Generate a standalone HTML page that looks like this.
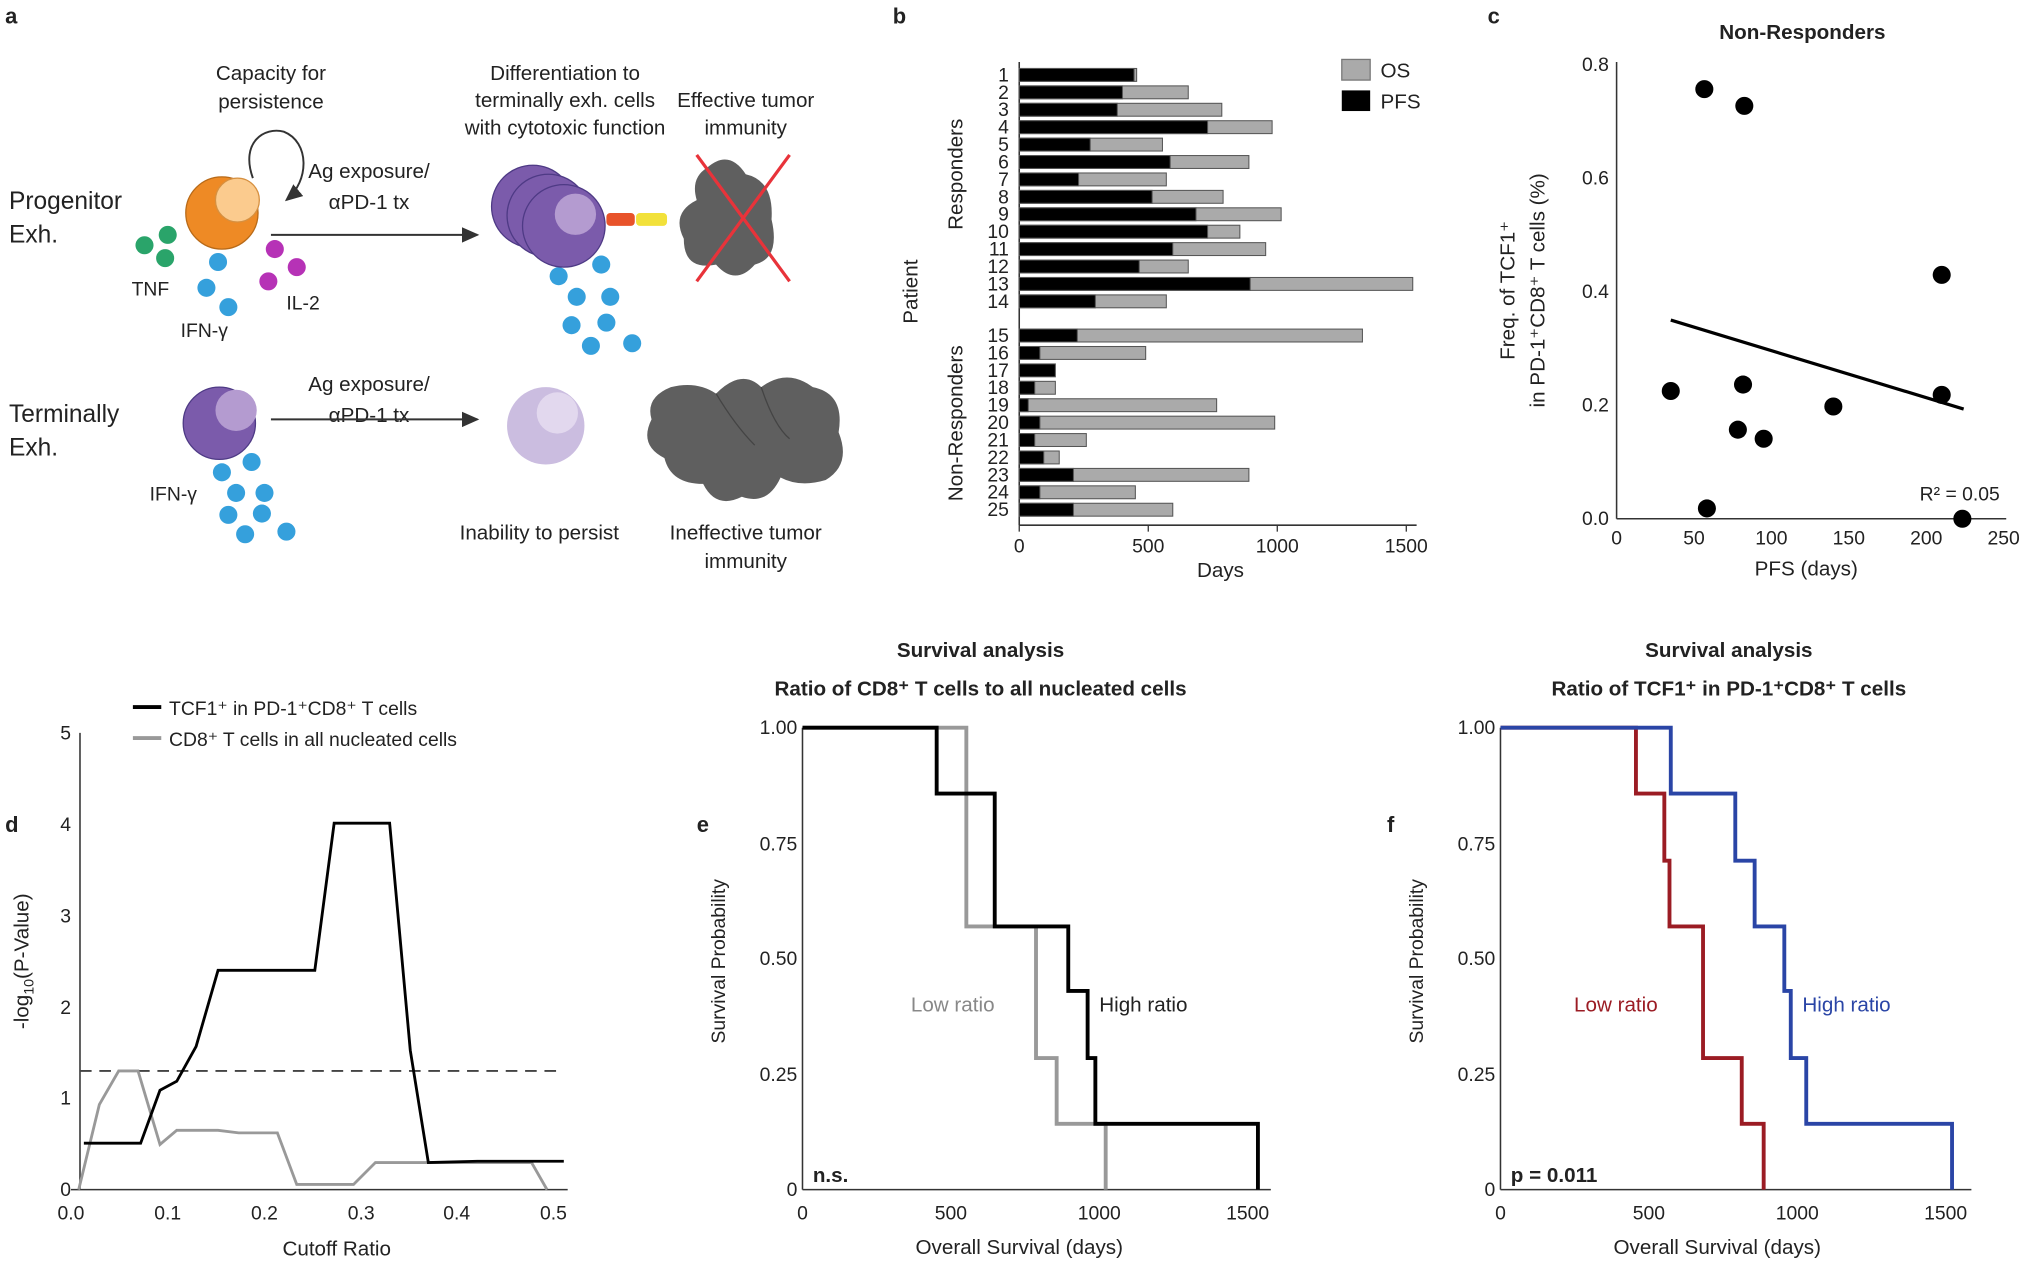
<!DOCTYPE html>
<html><head><meta charset="utf-8"><style>
html,body{margin:0;padding:0;background:#fff}
svg{display:block}
text{font-family:"Liberation Sans",sans-serif;fill:#222}
.t{font-size:16px}
.s{font-size:15px}
.b{font-weight:bold}
.L{font-size:17px;font-weight:bold}
</style></head><body>
<svg width="2023" height="1271" viewBox="0 0 1568 985" xmlns="http://www.w3.org/2000/svg">
<defs><marker id="ar" markerWidth="10" markerHeight="10" refX="8" refY="4" orient="auto"><path d="M0,0 L9,4 L0,8 z" fill="#333"/></marker></defs>
<text x="4" y="18" class="L">a</text>
<text x="692" y="18" class="L">b</text>
<text x="1153" y="18" class="L">c</text>
<text x="4" y="645" class="L">d</text>
<text x="540" y="645" class="L">e</text>
<text x="1075" y="645" class="L">f</text>

<!-- PANEL A -->
<g class="t">
<text x="210" y="62" text-anchor="middle">Capacity for</text>
<text x="210" y="84" text-anchor="middle">persistence</text>
<text x="438" y="62" text-anchor="middle">Differentiation to</text>
<text x="438" y="83" text-anchor="middle">terminally exh. cells</text>
<text x="438" y="104" text-anchor="middle">with cytotoxic function</text>
<text x="578" y="83" text-anchor="middle">Effective tumor</text>
<text x="578" y="104" text-anchor="middle">immunity</text>
<text x="7" y="162" font-size="19">Progenitor</text>
<text x="7" y="188" font-size="19">Exh.</text>
<text x="7" y="327" font-size="19">Terminally</text>
<text x="7" y="353" font-size="19">Exh.</text>
<text x="286" y="138" text-anchor="middle">Ag exposure/</text>
<text x="286" y="162" text-anchor="middle">αPD-1 tx</text>
<text x="286" y="303" text-anchor="middle">Ag exposure/</text>
<text x="286" y="327" text-anchor="middle">αPD-1 tx</text>
<text x="102" y="229" class="s">TNF</text>
<text x="140" y="261" class="s">IFN-γ</text>
<text x="222" y="240" class="s">IL-2</text>
<text x="116" y="388" class="s">IFN-γ</text>
<text x="418" y="418" text-anchor="middle">Inability to persist</text>
<text x="578" y="418" text-anchor="middle">Ineffective tumor</text>
<text x="578" y="440" text-anchor="middle">immunity</text>
</g>
<path d="M196,138 C186,110 205,98 220,102 C240,110 240,140 222,155" fill="none" stroke="#333" stroke-width="1.5" marker-end="url(#ar)"/>
<line x1="210" y1="182" x2="370" y2="182" stroke="#333" stroke-width="1.5" marker-end="url(#ar)"/>
<line x1="210" y1="325" x2="370" y2="325" stroke="#333" stroke-width="1.5" marker-end="url(#ar)"/>
<circle cx="172" cy="165" r="28" fill="#ee8a25" stroke="#b86a18"/>
<circle cx="184" cy="155" r="17" fill="#fbcb8e" stroke="#d69040"/>
<g fill="#2aa46a"><circle cx="112" cy="190" r="7"/><circle cx="130" cy="182" r="7"/><circle cx="128" cy="200" r="7"/></g>
<g fill="#b632b6"><circle cx="213" cy="193" r="7"/><circle cx="230" cy="207" r="7"/><circle cx="208" cy="218" r="7"/></g>
<g fill="#35a0dc"><circle cx="169" cy="203" r="7"/><circle cx="160" cy="223" r="7"/><circle cx="177" cy="238" r="7"/>
<circle cx="433" cy="214" r="7"/><circle cx="466" cy="205" r="7"/><circle cx="447" cy="230" r="7"/><circle cx="473" cy="230" r="7"/><circle cx="443" cy="252" r="7"/><circle cx="470" cy="250" r="7"/><circle cx="458" cy="268" r="7"/><circle cx="490" cy="266" r="7"/>
<circle cx="172" cy="366" r="7"/><circle cx="195" cy="358" r="7"/><circle cx="183" cy="382" r="7"/><circle cx="205" cy="382" r="7"/><circle cx="177" cy="399" r="7"/><circle cx="203" cy="398" r="7"/><circle cx="190" cy="414" r="7"/><circle cx="222" cy="412" r="7"/></g>
<g stroke="#4e3a85" stroke-width="1"><circle cx="413" cy="160" r="32" fill="#7b5bab"/><circle cx="425" cy="167" r="32" fill="#7b5bab"/><circle cx="437" cy="175" r="32" fill="#7b5bab"/></g>
<circle cx="446" cy="166" r="16" fill="#b49bd0"/>
<rect x="470" y="165" width="22" height="10" rx="3" fill="#e8532a"/><rect x="493" y="165" width="24" height="10" rx="3" fill="#f2e13a"/>
<path d="M548,130 Q565,115 578,135 Q600,140 598,170 Q605,200 585,205 Q570,222 555,205 Q530,210 530,185 Q520,165 540,155 Q535,138 548,130z" fill="#5f5f5f"/>
<line x1="540" y1="120" x2="612" y2="218" stroke="#e8333a" stroke-width="2.5"/><line x1="612" y1="120" x2="540" y2="218" stroke="#e8333a" stroke-width="2.5"/>
<circle cx="170" cy="328" r="28" fill="#7b5bab" stroke="#4e3a85"/><circle cx="183" cy="318" r="16" fill="#b49bd0"/>
<circle cx="423" cy="330" r="30" fill="#cbbde0"/><circle cx="432" cy="320" r="16" fill="#e2d8ee"/>
<path d="M520,300 Q540,295 555,305 Q575,285 590,300 Q610,285 630,300 Q655,305 650,335 Q660,360 640,372 Q620,378 605,370 Q595,392 575,385 Q555,395 545,375 Q520,375 515,355 Q495,345 505,325 Q500,308 520,300z" fill="#5f5f5f"/>
<path d="M555,305 Q570,330 585,345 M590,300 Q600,330 612,340" fill="none" stroke="#444"/>

<!-- PANEL B -->
<line x1="790" y1="48" x2="790" y2="407" stroke="#333" stroke-width="1.2"/>
<line x1="790" y1="407" x2="1098" y2="407" stroke="#333" stroke-width="1.2"/>
<g class="s" text-anchor="middle">
<text x="790" y="428">0</text><text x="890" y="428">500</text><text x="990" y="428">1000</text><text x="1090" y="428">1500</text>
</g>
<g stroke="#333"><line x1="790" y1="407" x2="790" y2="412"/><line x1="890" y1="407" x2="890" y2="412"/><line x1="990" y1="407" x2="990" y2="412"/><line x1="1090" y1="407" x2="1090" y2="412"/></g>
<text x="946" y="447" class="t" text-anchor="middle">Days</text>
<text transform="translate(711,226) rotate(-90)" class="t" text-anchor="middle">Patient</text>
<text transform="translate(746,135) rotate(-90)" class="t" text-anchor="middle">Responders</text>
<text transform="translate(746,328) rotate(-90)" class="t" text-anchor="middle">Non-Responders</text>
<rect x="1040" y="46" width="22" height="16" fill="#aaa" stroke="#777"/>
<rect x="1040" y="70" width="22" height="16" fill="#000"/>
<text x="1070" y="60" class="t">OS</text><text x="1070" y="84" class="t">PFS</text>

<!-- PANEL C -->
<text x="1397" y="30" class="t b" text-anchor="middle">Non-Responders</text>
<line x1="1253" y1="48" x2="1253" y2="402" stroke="#333" stroke-width="1.2"/>
<line x1="1253" y1="402" x2="1555" y2="402" stroke="#333" stroke-width="1.2"/>
<g class="s" text-anchor="end"><text x="1247" y="407">0.0</text><text x="1247" y="319">0.2</text><text x="1247" y="231">0.4</text><text x="1247" y="143">0.6</text><text x="1247" y="55">0.8</text></g>
<g class="s" text-anchor="middle"><text x="1253" y="422">0</text><text x="1313" y="422">50</text><text x="1373" y="422">100</text><text x="1433" y="422">150</text><text x="1493" y="422">200</text><text x="1553" y="422">250</text></g>
<text x="1400" y="446" class="t" text-anchor="middle">PFS (days)</text>
<text transform="translate(1174,225) rotate(-90)" class="t" text-anchor="middle">Freq. of TCF1⁺</text>
<text transform="translate(1197,225) rotate(-90)" class="t" text-anchor="middle">in PD-1⁺CD8⁺ T cells (%)</text>
<line x1="1295" y1="248" x2="1522" y2="317" stroke="#000" stroke-width="2.5"/>
<g fill="#000"><circle cx="1295" cy="303" r="7"/><circle cx="1321" cy="69" r="7"/><circle cx="1352" cy="82" r="7"/><circle cx="1505" cy="213" r="7"/><circle cx="1351" cy="298" r="7"/><circle cx="1505" cy="306" r="7"/><circle cx="1421" cy="315" r="7"/><circle cx="1347" cy="333" r="7"/><circle cx="1367" cy="340" r="7"/><circle cx="1323" cy="394" r="7"/><circle cx="1521" cy="402" r="7"/></g>
<text x="1550" y="388" class="s" text-anchor="end">R² = 0.05</text>

<!-- PANEL D -->
<line x1="62" y1="568" x2="62" y2="922" stroke="#333" stroke-width="1.2"/>
<line x1="55" y1="922" x2="440" y2="922" stroke="#333" stroke-width="1.2"/>
<g class="s" text-anchor="end"><text x="55" y="927">0</text><text x="55" y="856">1</text><text x="55" y="786">2</text><text x="55" y="715">3</text><text x="55" y="644">4</text><text x="55" y="573">5</text></g>
<g class="s" text-anchor="middle"><text x="55" y="945">0.0</text><text x="130" y="945">0.1</text><text x="205" y="945">0.2</text><text x="280" y="945">0.3</text><text x="354" y="945">0.4</text><text x="429" y="945">0.5</text></g>
<text x="261" y="973" class="t" text-anchor="middle">Cutoff Ratio</text>
<text transform="translate(22,745) rotate(-90)" class="t" text-anchor="middle">-log<tspan font-size="11" dy="4">10</tspan><tspan dy="-4">(P-Value)</tspan></text>
<line x1="62" y1="830" x2="437" y2="830" stroke="#444" stroke-width="1.5" stroke-dasharray="9,6"/>
<polyline fill="none" stroke="#999" stroke-width="2.2" points="61,922 77,856 92,830 107,830 124,887 137,876 169,876 185,878 215,878 230,918 274,918 291,901 412,901 424,922"/>
<polyline fill="none" stroke="#000" stroke-width="2.2" points="65,886 109,886 124,845 137,838 152,811 169,752 244,752 259,638 302,638 318,814 332,901 370,900 437,900"/>
<line x1="103" y1="548" x2="125" y2="548" stroke="#000" stroke-width="3"/>
<line x1="103" y1="572" x2="125" y2="572" stroke="#999" stroke-width="3"/>
<text x="131" y="554" class="s">TCF1⁺ in PD-1⁺CD8⁺ T cells</text>
<text x="131" y="578" class="s">CD8⁺ T cells in all nucleated cells</text>

<!-- PANEL E -->
<text x="760" y="509" class="t b" text-anchor="middle">Survival analysis</text>
<text x="760" y="539" class="t b" text-anchor="middle">Ratio of CD8⁺ T cells to all nucleated cells</text>
<line x1="622" y1="564" x2="622" y2="922" stroke="#333" stroke-width="1.2"/>
<line x1="622" y1="922" x2="985" y2="922" stroke="#333" stroke-width="1.2"/>
<g class="s" text-anchor="end"><text x="618" y="927">0</text><text x="618" y="838">0.25</text><text x="618" y="748">0.50</text><text x="618" y="659">0.75</text><text x="618" y="569">1.00</text></g>
<g class="s" text-anchor="middle"><text x="622" y="945">0</text><text x="737" y="945">500</text><text x="852" y="945">1000</text><text x="967" y="945">1500</text></g>
<text x="790" y="972" class="t" text-anchor="middle">Overall Survival (days)</text>
<text transform="translate(562,745) rotate(-90)" class="s" text-anchor="middle">Survival Probability</text>
<polyline fill="none" stroke="#999" stroke-width="3" points="622,564 749,564 749,718 803,718 803,820 819,820 819,871 857,871 857,922"/>
<polyline fill="none" stroke="#000" stroke-width="3" points="622,564 726,564 726,615 771,615 771,718 828,718 828,768 843,768 843,820 849,820 849,871 975,871 975,922"/>
<text x="706" y="784" class="t" style="fill:#888">Low ratio</text>
<text x="852" y="784" class="t">High ratio</text>
<text x="630" y="916" class="t b">n.s.</text>

<!-- PANEL F -->
<text x="1340" y="509" class="t b" text-anchor="middle">Survival analysis</text>
<text x="1340" y="539" class="t b" text-anchor="middle">Ratio of TCF1⁺ in PD-1⁺CD8⁺ T cells</text>
<line x1="1163" y1="564" x2="1163" y2="922" stroke="#333" stroke-width="1.2"/>
<line x1="1163" y1="922" x2="1528" y2="922" stroke="#333" stroke-width="1.2"/>
<g class="s" text-anchor="end"><text x="1159" y="927">0</text><text x="1159" y="838">0.25</text><text x="1159" y="748">0.50</text><text x="1159" y="659">0.75</text><text x="1159" y="569">1.00</text></g>
<g class="s" text-anchor="middle"><text x="1163" y="945">0</text><text x="1278" y="945">500</text><text x="1393" y="945">1000</text><text x="1508" y="945">1500</text></g>
<text x="1331" y="972" class="t" text-anchor="middle">Overall Survival (days)</text>
<text transform="translate(1103,745) rotate(-90)" class="s" text-anchor="middle">Survival Probability</text>
<polyline fill="none" stroke="#9b1c24" stroke-width="3" points="1163,564 1268,564 1268,615 1290,615 1290,667 1294,667 1294,718 1320,718 1320,820 1350,820 1350,871 1367,871 1367,922"/>
<polyline fill="none" stroke="#2a45a6" stroke-width="3" points="1163,564 1295,564 1295,615 1345,615 1345,667 1360,667 1360,718 1383,718 1383,768 1388,768 1388,820 1400,820 1400,871 1513,871 1513,922"/>
<text x="1220" y="784" class="t" style="fill:#9b1c24">Low ratio</text>
<text x="1397" y="784" class="t" style="fill:#2a45a6">High ratio</text>
<text x="1171" y="916" class="t b">p = 0.011</text>

<!-- bars b -->
<g stroke="#555" stroke-width="0.8">
<rect x="790" y="53" width="91" height="10" fill="#aaa"/><rect x="790" y="53" width="89" height="10" fill="#000"/>
<rect x="790" y="66.5" width="131" height="10" fill="#aaa"/><rect x="790" y="66.5" width="80" height="10" fill="#000"/>
<rect x="790" y="80" width="157" height="10" fill="#aaa"/><rect x="790" y="80" width="76" height="10" fill="#000"/>
<rect x="790" y="93.5" width="196" height="10" fill="#aaa"/><rect x="790" y="93.5" width="146" height="10" fill="#000"/>
<rect x="790" y="107" width="111" height="10" fill="#aaa"/><rect x="790" y="107" width="55" height="10" fill="#000"/>
<rect x="790" y="120.5" width="178" height="10" fill="#aaa"/><rect x="790" y="120.5" width="117" height="10" fill="#000"/>
<rect x="790" y="134" width="114" height="10" fill="#aaa"/><rect x="790" y="134" width="46" height="10" fill="#000"/>
<rect x="790" y="147.5" width="158" height="10" fill="#aaa"/><rect x="790" y="147.5" width="103" height="10" fill="#000"/>
<rect x="790" y="161" width="203" height="10" fill="#aaa"/><rect x="790" y="161" width="137" height="10" fill="#000"/>
<rect x="790" y="174.5" width="171" height="10" fill="#aaa"/><rect x="790" y="174.5" width="146" height="10" fill="#000"/>
<rect x="790" y="188" width="191" height="10" fill="#aaa"/><rect x="790" y="188" width="119" height="10" fill="#000"/>
<rect x="790" y="201.5" width="131" height="10" fill="#aaa"/><rect x="790" y="201.5" width="93" height="10" fill="#000"/>
<rect x="790" y="215" width="305" height="10" fill="#aaa"/><rect x="790" y="215" width="179" height="10" fill="#000"/>
<rect x="790" y="228.5" width="114" height="10" fill="#aaa"/><rect x="790" y="228.5" width="59" height="10" fill="#000"/>
<rect x="790" y="255" width="266" height="10" fill="#aaa"/><rect x="790" y="255" width="45" height="10" fill="#000"/>
<rect x="790" y="268.5" width="98" height="10" fill="#aaa"/><rect x="790" y="268.5" width="16" height="10" fill="#000"/>
<rect x="790" y="282" width="28" height="10" fill="#000"/>
<rect x="790" y="295.5" width="28" height="10" fill="#aaa"/><rect x="790" y="295.5" width="12" height="10" fill="#000"/>
<rect x="790" y="309" width="153" height="10" fill="#aaa"/><rect x="790" y="309" width="7" height="10" fill="#000"/>
<rect x="790" y="322.5" width="198" height="10" fill="#aaa"/><rect x="790" y="322.5" width="16" height="10" fill="#000"/>
<rect x="790" y="336" width="52" height="10" fill="#aaa"/><rect x="790" y="336" width="12" height="10" fill="#000"/>
<rect x="790" y="349.5" width="31" height="10" fill="#aaa"/><rect x="790" y="349.5" width="19" height="10" fill="#000"/>
<rect x="790" y="363" width="178" height="10" fill="#aaa"/><rect x="790" y="363" width="42" height="10" fill="#000"/>
<rect x="790" y="376.5" width="90" height="10" fill="#aaa"/><rect x="790" y="376.5" width="16" height="10" fill="#000"/>
<rect x="790" y="390" width="119" height="10" fill="#aaa"/><rect x="790" y="390" width="42" height="10" fill="#000"/>
</g>
<g class="s" text-anchor="end">
<text x="782" y="63">1</text><text x="782" y="76.5">2</text><text x="782" y="90">3</text><text x="782" y="103.5">4</text><text x="782" y="117">5</text><text x="782" y="130.5">6</text><text x="782" y="144">7</text><text x="782" y="157.5">8</text><text x="782" y="171">9</text><text x="782" y="184.5">10</text><text x="782" y="198">11</text><text x="782" y="211.5">12</text><text x="782" y="225">13</text><text x="782" y="238.5">14</text>
<text x="782" y="265">15</text><text x="782" y="278.5">16</text><text x="782" y="292">17</text><text x="782" y="305.5">18</text><text x="782" y="319">19</text><text x="782" y="332.5">20</text><text x="782" y="346">21</text><text x="782" y="359.5">22</text><text x="782" y="373">23</text><text x="782" y="386.5">24</text><text x="782" y="400">25</text>
</g>
</svg>
</body></html>
